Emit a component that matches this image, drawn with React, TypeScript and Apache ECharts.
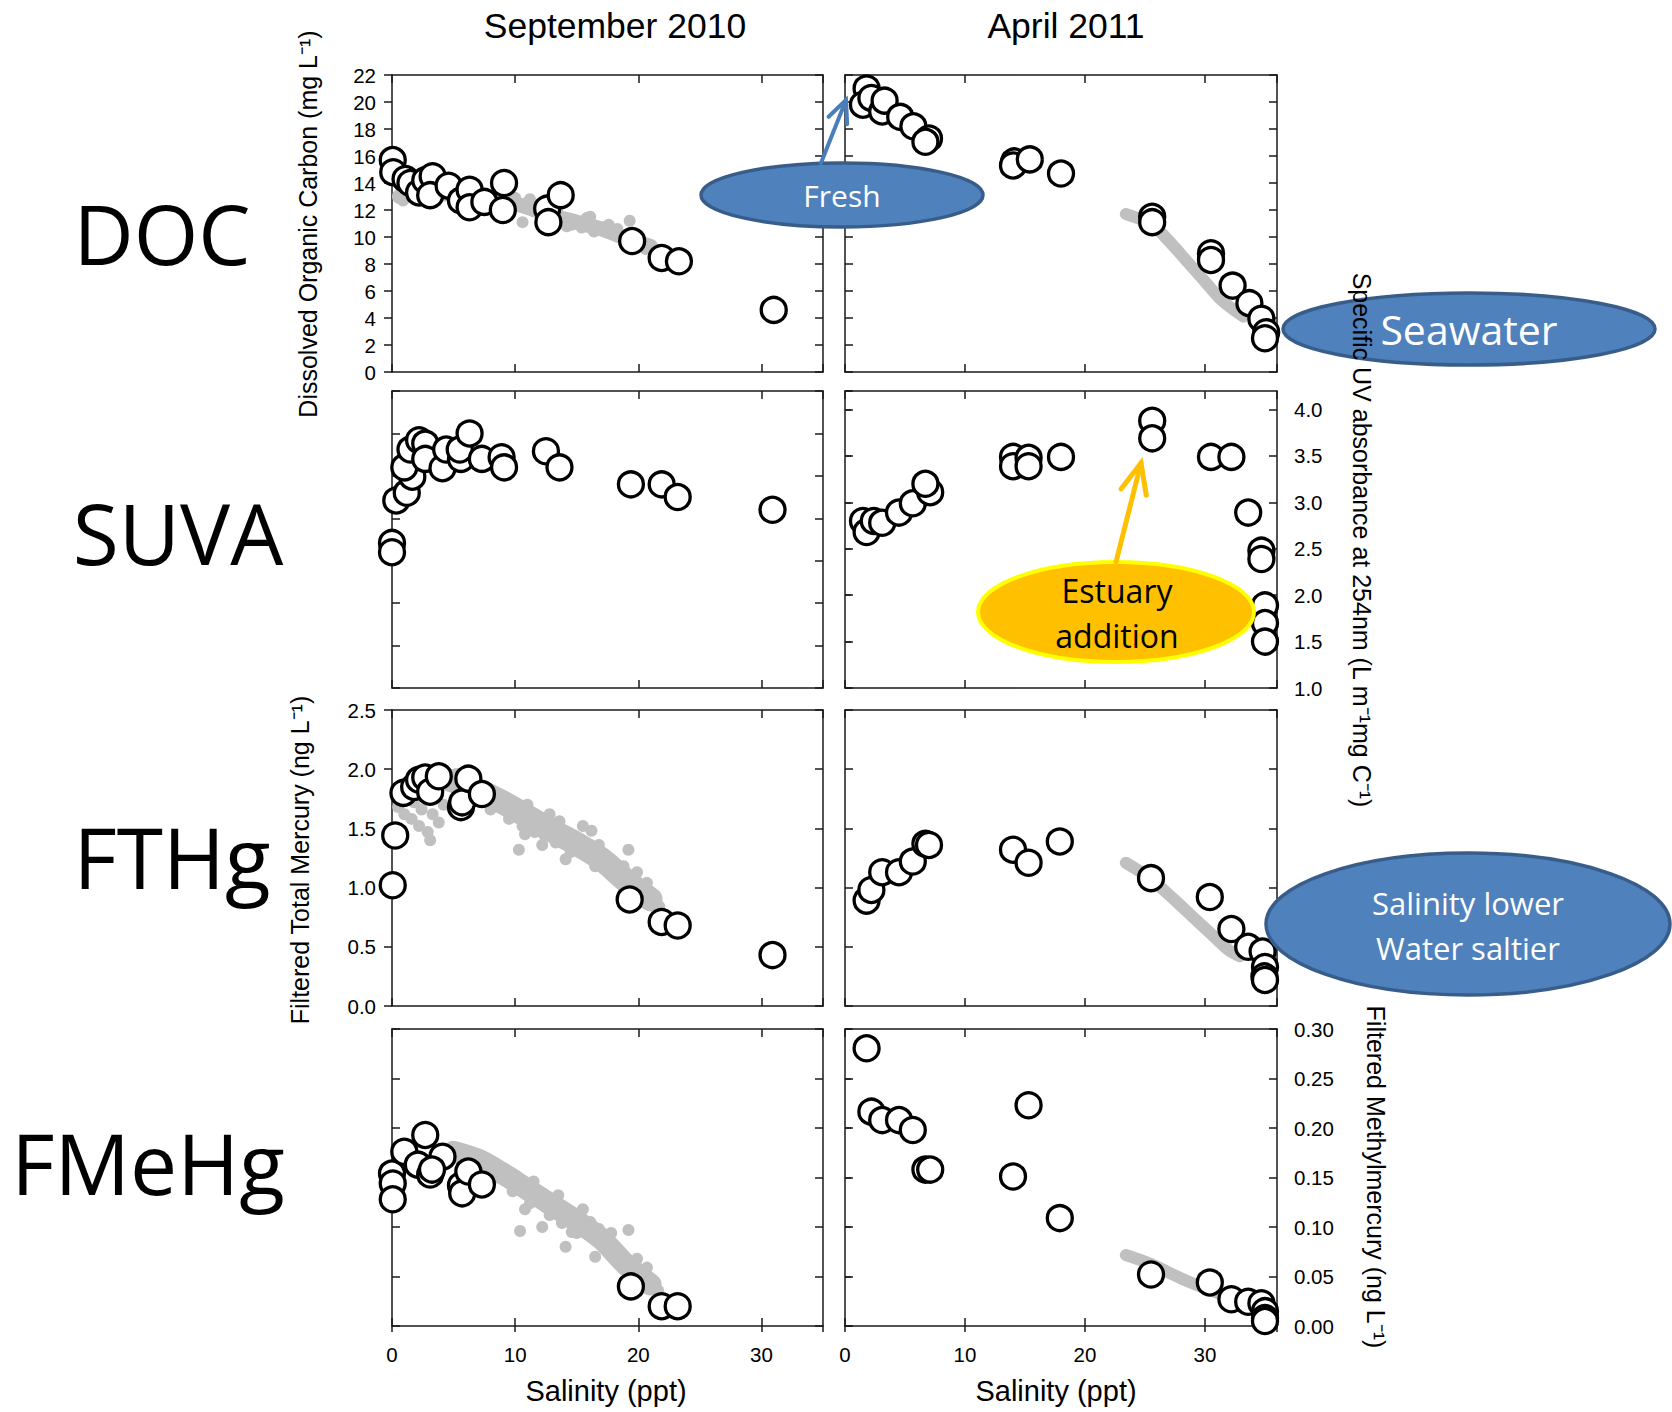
import React, { useEffect, useRef } from "react";
import * as echarts from "echarts";

// ---------------- DATA ----------------
// Salinity (ppt) vs parameter; open circles = field samples, grey = model / mixing points
const sepDOC = [[0.06,15.7],[0.1,14.8],[1.1,14.3],[1.5,14.0],[2.2,13.3],[2.7,14.2],[3.3,14.5],[3.1,13.1],[4.6,13.8],[5.6,12.7],[6.3,13.5],[6.3,12.2],[7.5,12.6],[9.1,14.0],[9.0,12.0],[12.6,12.1],[12.7,11.1],[13.7,13.1],[19.5,9.7],[21.9,8.45],[23.3,8.2],[31.0,4.6]];
const sepDOCband = [[0.6,13.0],[3,13.2],[6,13.1],[9,12.7],[11,12.2],[13,11.6],[15,11.1],[17,10.6],[19,9.9],[21,9.3]];
const sepDOCdots = [[0.6,13.0],[0.9,12.7],[1.4,13.2],[2.0,13.0],[2.6,12.9],[3.4,13.1],[4.2,13.3],[5.0,13.0],[6.0,12.9],[7.0,13.2],[8.0,12.9],[9.0,12.6],[10.0,12.9],[10.6,11.1],[10.9,12.5],[11.5,11.9],[12.2,11.6],[13.0,11.9],[13.8,11.3],[14.2,10.8],[15.0,11.2],[15.8,11.4],[16.1,11.5],[16.4,10.4],[17.2,10.7],[18.0,10.3],[18.6,10.0],[19.3,11.2],[19.9,9.5],[20.4,9.6],[20.9,9.4],[11.2,12.8],[12.0,12.4],[13.4,12.0],[14.6,10.9],[15.4,10.7],[17.6,10.9],[18.3,10.6],[20.6,9.1]];
const aprDOC = [[1.8,21.0],[1.5,19.8],[2.2,20.3],[3.1,19.3],[3.3,20.1],[4.6,18.9],[5.7,18.2],[7.0,17.3],[6.7,17.05],[14.1,15.6],[14.0,15.3],[15.4,15.75],[18.0,14.7],[25.6,11.5],[25.6,11.1],[30.5,8.8],[30.5,8.3],[32.3,6.4],[33.7,5.1],[34.7,3.95],[35.1,2.95],[35.0,2.5]];
const aprDOCband = [[23.4,11.7],[25.6,10.9],[27.2,9.5],[28.4,8.3],[29.9,6.8],[31.4,5.3],[33.2,4.1]];

const sepSUVA = [[0,2.71],[0,2.60],[0.35,3.21],[1.2,3.30],[1.65,3.49],[1.0,3.60],[1.5,3.81],[2.2,3.92],[2.7,3.88],[2.7,3.70],[4.1,3.59],[4.4,3.81],[5.6,3.70],[5.5,3.81],[6.3,4.0],[7.3,3.70],[8.9,3.72],[9.1,3.60],[12.5,3.79],[13.6,3.60],[19.4,3.40],[21.9,3.40],[23.2,3.25],[30.9,3.10]];
const aprSUVA = [[1.5,2.80],[1.8,2.68],[2.4,2.80],[3.1,2.78],[4.5,2.89],[5.65,2.99],[7.1,3.11],[6.7,3.20],[14.0,3.49],[14.0,3.39],[15.3,3.48],[15.3,3.39],[18.0,3.49],[25.6,3.88],[25.6,3.69],[30.5,3.49],[32.2,3.49],[33.6,2.89],[34.7,2.48],[34.7,2.39],[35.0,1.89],[35.0,1.70],[35.0,1.50]];

const sepFTHg = [[0.06,1.02],[0.26,1.44],[0.93,1.80],[1.8,1.85],[2.2,1.91],[2.7,1.93],[3.1,1.81],[3.8,1.94],[5.6,1.68],[5.7,1.72],[6.2,1.92],[7.3,1.79],[19.3,0.90],[21.9,0.71],[23.2,0.68],[30.9,0.43]];
const sepFTHgBand = [[5,1.9],[7,1.82],[9,1.72],[11,1.6],[13,1.48],[15,1.37],[17,1.24],[19,1.06],[21,0.9]];
const sepFTHgDots = [[0.5,1.68],[0.8,1.76],[1.0,1.62],[1.3,1.86],[1.6,1.58],[1.8,1.72],[2.0,1.97],[2.2,1.52],[2.4,1.66],[2.6,1.80],[2.9,1.47],[3.1,1.40],[3.3,1.62],[3.5,1.75],[3.8,1.55],[4.2,1.70],[4.6,1.86],[5.2,1.96],[10.3,1.32],[10.8,1.45],[12.2,1.36],[12.8,1.62],[14.1,1.24],[14.5,1.30],[15.5,1.52],[16.2,1.48],[16.5,1.18],[17.5,1.22],[18.5,1.12],[19.2,1.32],[19.9,1.13],[20.3,1.02],[20.7,1.04],[21.4,0.88],[21.7,0.84],[8.0,1.66],[9.5,1.58],[10.6,1.52],[11.6,1.47],[12.4,1.44],[13.3,1.38],[14.8,1.40],[15.8,1.28],[16.8,1.36],[17.8,1.14],[18.8,1.18],[11.0,1.70],[13.6,1.56]];
const aprFTHg = [[1.8,0.89],[2.2,0.98],[3.1,1.13],[4.5,1.13],[5.65,1.22],[6.7,1.37],[7.0,1.36],[14.0,1.32],[15.3,1.21],[17.9,1.39],[25.5,1.08],[30.4,0.92],[32.2,0.65],[33.6,0.50],[34.8,0.46],[35.0,0.33],[34.95,0.25],[35.0,0.22]];
const aprFTHgBand = [[23.4,1.21],[25.4,1.08],[27.2,0.92],[29.0,0.75],[30.5,0.61],[32.0,0.47],[32.9,0.42]];

const sepFMeHg = [[0,0.154],[0.06,0.144],[0.06,0.128],[1.0,0.176],[2.7,0.193],[2.1,0.163],[3.1,0.153],[4.1,0.171],[3.25,0.158],[5.6,0.142],[5.7,0.134],[6.2,0.156],[7.3,0.143],[19.4,0.040],[21.9,0.020],[23.2,0.020]];
const sepFMeHgBand = [[5,0.176],[7,0.168],[9,0.154],[11,0.138],[13,0.122],[15,0.106],[17,0.088],[19,0.062],[21,0.042]];
const sepFMeHgDots = [[10.4,0.096],[10.8,0.118],[11.5,0.146],[12.2,0.100],[12.8,0.112],[13.5,0.132],[14.1,0.080],[14.6,0.095],[15.5,0.118],[16.1,0.105],[16.5,0.070],[17.2,0.080],[17.8,0.094],[18.5,0.068],[19.2,0.097],[19.9,0.068],[20.3,0.048],[20.7,0.059],[21.3,0.040],[21.6,0.036],[8.5,0.150],[9.8,0.136],[11.2,0.124],[12.5,0.120],[13.8,0.104],[15.0,0.094],[16.8,0.098],[18.0,0.076]];
const aprFMeHg = [[1.8,0.2805],[2.2,0.2165],[3.1,0.208],[4.5,0.208],[5.65,0.198],[6.7,0.158],[7.1,0.158],[15.3,0.223],[14.0,0.151],[17.9,0.109],[25.5,0.052],[30.4,0.044],[32.2,0.027],[33.6,0.0245],[34.7,0.023],[35.0,0.015],[35.0,0.008],[35.0,0.005]];
const aprFMeHgBand = [[23.4,0.0717],[25.4,0.063],[28.4,0.046],[30.5,0.036],[32.0,0.029]];

const columnTitles = ["September 2010", "April 2011"];
const rowLabels = ["DOC", "SUVA", "FTHg", "FMeHg"];
const xTitle = "Salinity (ppt)";
const yTitles = [
  "Dissolved Organic Carbon (mg L\u207B\u00B9)",
  "Specific UV absorbance at 254nm (L m\u207B\u00B9mg C\u207B\u00B9)",
  "Filtered Total Mercury (ng L\u207B\u00B9)",
  "Filtered Methylmercury (ng L\u207B\u00B9)",
];

// ---------------- LAYOUT ----------------
const COL_LEFT = [392, 845];
const COL_W = [431, 432];
const ROW_TOP = [75, 391, 710, 1029];
const ROW_H = [297, 297, 296, 297];
const AXIS_COLOR = "#1a1a1a";
const ARIAL = "'Liberation Sans', Arial, sans-serif";
const CAL = "'Open Sans', 'Noto Sans', sans-serif";
const GREY = "#c0c0c0";

type Panel = {
  row: number; col: number; xMax: number; yMin: number; yMax: number; yInt: number; dec: number;
  yLabel: "left" | "right" | null; circles: number[][]; dots?: number[][]; band?: number[][]; bandW?: number;
};

const panels: Panel[] = [
  { row: 0, col: 0, xMax: 35, yMin: 0, yMax: 22, yInt: 2, dec: 0, yLabel: "left", circles: sepDOC, dots: sepDOCdots, band: sepDOCband, bandW: 15 },
  { row: 0, col: 1, xMax: 36, yMin: 0, yMax: 22, yInt: 2, dec: 0, yLabel: null, circles: aprDOC, band: aprDOCband, bandW: 12 },
  { row: 1, col: 0, xMax: 35, yMin: 1, yMax: 4.5, yInt: 0.5, dec: 1, yLabel: null, circles: sepSUVA },
  { row: 1, col: 1, xMax: 36, yMin: 1, yMax: 4.2, yInt: 0.5, dec: 1, yLabel: "right", circles: aprSUVA },
  { row: 2, col: 0, xMax: 35, yMin: 0, yMax: 2.5, yInt: 0.5, dec: 1, yLabel: "left", circles: sepFTHg, dots: sepFTHgDots, band: sepFTHgBand, bandW: 24 },
  { row: 2, col: 1, xMax: 36, yMin: 0, yMax: 2.5, yInt: 0.5, dec: 1, yLabel: null, circles: aprFTHg, band: aprFTHgBand, bandW: 12 },
  { row: 3, col: 0, xMax: 35, yMin: 0, yMax: 0.3, yInt: 0.05, dec: 2, yLabel: null, circles: sepFMeHg, dots: sepFMeHgDots, band: sepFMeHgBand, bandW: 22 },
  { row: 3, col: 1, xMax: 36, yMin: 0, yMax: 0.3, yInt: 0.05, dec: 2, yLabel: "right", circles: aprFMeHg, band: aprFMeHgBand, bandW: 12 },
];

function buildOption() {
  const grid: any[] = [];
  const xAxis: any[] = [];
  const yAxis: any[] = [];
  const extraX: any[] = [];
  const extraY: any[] = [];
  const series: any[] = [];
  const lineStyle = { color: AXIS_COLOR, width: 1.5 };
  const labelStyle = { fontSize: 20.5, color: "#000", fontFamily: ARIAL };

  panels.forEach((p, i) => {
    grid.push({ left: COL_LEFT[p.col], top: ROW_TOP[p.row], width: COL_W[p.col], height: ROW_H[p.row] });
    const baseX = {
      gridIndex: i, type: "value", min: 0, max: p.xMax, interval: 10,
      splitLine: { show: false }, axisLine: { show: true, onZero: false, lineStyle },
    };
    const xLab = p.row === 3;
    xAxis.push({ ...baseX, position: "bottom", axisTick: { show: true, inside: true, length: 8, lineStyle },
      axisLabel: { show: xLab, margin: 18, showMaxLabel: false, ...labelStyle } });
    xAxis.push({ ...baseX, position: "top", axisTick: { show: true, inside: true, length: 8, lineStyle }, axisLabel: { show: false } });
    if (xLab) {
      extraX.push({ ...baseX, position: "bottom", axisLine: { show: false }, axisTick: { show: true, inside: false, length: 6, lineStyle }, axisLabel: { show: false } });
    }
    const span = p.yMax - p.yMin;
    const isMultiple = Math.abs(Math.round(span / p.yInt) * p.yInt - span) < 1e-9;
    const fmt = (v: number) => v.toFixed(p.dec);
    const baseY = {
      gridIndex: i, type: "value", min: p.yMin, max: p.yMax, interval: p.yInt,
      splitLine: { show: false }, axisLine: { show: true, onZero: false, lineStyle },
    };
    const leftOut = p.yLabel === "left";
    yAxis.push({ ...baseY, position: "left", axisTick: { show: true, inside: !leftOut, length: 8, lineStyle },
      axisLabel: { show: leftOut, margin: 16, formatter: fmt, showMaxLabel: isMultiple, ...labelStyle } });
    yAxis.push({ ...baseY, position: "right", axisTick: { show: true, inside: true, length: 8, lineStyle },
      axisLabel: { show: p.yLabel === "right", margin: 17, formatter: fmt, showMaxLabel: isMultiple, ...labelStyle } });
    if (p.yLabel === "right") {
      extraY.push({ ...baseY, position: "right", axisLine: { show: false }, axisTick: { show: true, inside: false, length: 6, lineStyle }, axisLabel: { show: false } });
    }

    if (p.band) {
      series.push({ type: "line", xAxisIndex: 2 * i, yAxisIndex: 2 * i, data: p.band, showSymbol: false, symbol: "none",
        smooth: 0.3, silent: true, z: 1, lineStyle: { color: GREY, width: p.bandW, cap: "round", join: "round" } });
    }
    if (p.dots) {
      series.push({ type: "scatter", xAxisIndex: 2 * i, yAxisIndex: 2 * i, data: p.dots, symbolSize: 12, silent: true, z: 2,
        itemStyle: { color: GREY, opacity: 1 } });
    }
    series.push({ type: "scatter", xAxisIndex: 2 * i, yAxisIndex: 2 * i, data: p.circles, symbol: "circle", symbolSize: 25, z: 3,
      clip: false, itemStyle: { color: "#fff", borderColor: "#000", borderWidth: 3.3, opacity: 1 } });
  });

  const txt = (text: string, x: number, y: number, size: number, family: string, opt: any = {}) => ({
    type: "text", x, y, rotation: opt.rot || 0, z: 100, zlevel: 0,
    style: { text, fontSize: size, fontFamily: family, fill: opt.fill || "#000",
      textAlign: "center", textVerticalAlign: "middle", align: "center", verticalAlign: "middle" },
  });
  const ellipse = (cx: number, cy: number, rx: number, ry: number, fill: string, stroke: string, lw: number) => ({
    type: "ellipse", z: 90, shape: { cx, cy, rx, ry }, style: { fill, stroke, lineWidth: lw },
  });
  const arrow = (x1: number, y1: number, x2: number, y2: number, color: string, lw: number, head: number, half: number) => {
    const dx = x2 - x1, dy = y2 - y1; const L = Math.hypot(dx, dy); const ux = dx / L, uy = dy / L; const px = -uy, py = ux;
    const bx = x2 - head * ux, by = y2 - head * uy;
    return [
      { type: "line", z: 95, shape: { x1, y1, x2, y2 }, style: { stroke: color, lineWidth: lw, lineCap: "round" } },
      { type: "polyline", z: 95, shape: { points: [[bx + half * px, by + half * py], [x2, y2], [bx - half * px, by - half * py]] },
        style: { stroke: color, lineWidth: lw, fill: null, lineJoin: "miter", lineCap: "round" } },
    ];
  };

  const graphic: any[] = [
    txt(columnTitles[0], 615, 26, 35.5, ARIAL),
    txt(columnTitles[1], 1066, 26, 35.5, ARIAL),
    txt(rowLabels[0], 162, 232, 83, CAL),
    txt(rowLabels[1], 178, 532, 84, CAL),
    txt(rowLabels[2], 172, 856, 84, CAL),
    txt(rowLabels[3], 148, 1162, 84, CAL),
    txt(yTitles[0], 308, 224, 25, ARIAL, { rot: Math.PI / 2 }),
    txt(yTitles[2], 300, 860, 25, ARIAL, { rot: Math.PI / 2 }),
    txt(yTitles[1], 1362, 540, 25, ARIAL, { rot: -Math.PI / 2 }),
    txt(yTitles[3], 1376, 1177, 25, ARIAL, { rot: -Math.PI / 2 }),
    txt(xTitle, 606, 1391, 29, ARIAL),
    txt(xTitle, 1056, 1391, 29, ARIAL),
    ...arrow(821, 163, 846, 100, "#4a7ebb", 4, 22, 10),
    ellipse(842, 195, 141, 32, "#4f81bd", "#385d8a", 3.5),
    txt("Fresh", 842, 195, 30, CAL, { fill: "#fff" }),
    ellipse(1469, 329, 186, 36, "#4f81bd", "#385d8a", 3.5),
    txt("Seawater", 1469, 329, 41, CAL, { fill: "#fff" }),
    ellipse(1468, 924, 202, 71, "#4f81bd", "#385d8a", 3.5),
    txt("Salinity lower", 1468, 903, 31, CAL, { fill: "#fff" }),
    txt("Water saltier", 1468, 948, 31, CAL, { fill: "#fff" }),
    ...arrow(1116, 562, 1141, 463, "#ffc000", 5, 30, 13),
    ellipse(1116, 612, 138, 50, "#ffc000", "#ffff00", 4),
    txt("Estuary", 1117, 590, 32, CAL),
    txt("addition", 1117, 635, 32, CAL),
  ];

  return {
    animation: false,
    backgroundColor: "#fff",
    grid,
    xAxis: [...xAxis, ...extraX],
    yAxis: [...yAxis, ...extraY],
    series,
    graphic,
  };
}

export default function App() {
  const ref = useRef<HTMLDivElement>(null);
  useEffect(() => {
    if (!ref.current) return;
    const chart = echarts.init(ref.current, undefined, { renderer: "svg" });
    chart.setOption(buildOption() as any);
    return () => chart.dispose();
  }, []);
  return <div ref={ref} style={{ position: "absolute", left: 0, top: 0, width: 1672, height: 1412, background: "#fff" }} />;
}
